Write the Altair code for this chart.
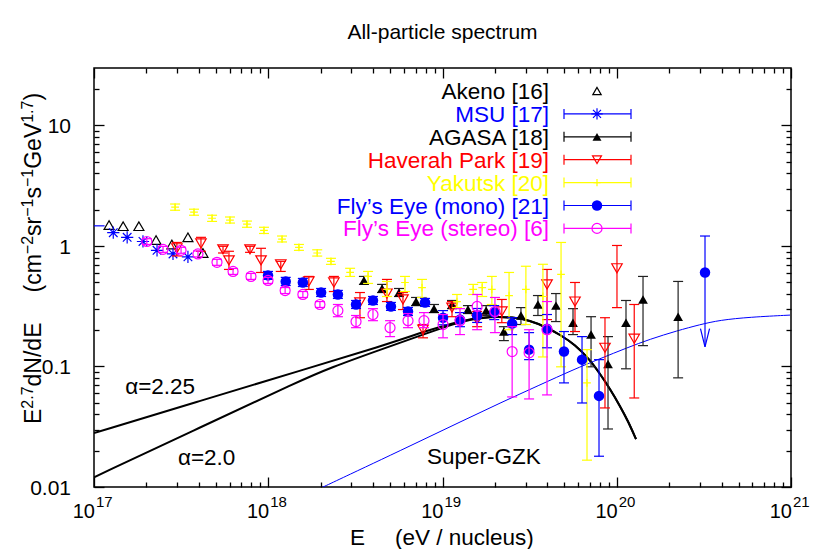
import altair as alt
import pandas as pd

FONT = "Liberation Sans"

# ---------------- data: E (eV) and E^2.7 dN/dE ----------------
akeno_E = [1.22e17, 1.47e17, 1.81e17, 2.27e17, 2.80e17, 3.46e17, 4.22e17]
akeno_F = [1.49, 1.46, 1.46, 1.12, 1.03, 1.18, 0.875]

msu_E = [1.29e17, 1.55e17, 1.91e17, 2.30e17, 2.84e17, 3.46e17]
msu_F = [1.29, 1.18, 1.09, 0.921, 0.859, 0.812]
# MSU point just below 1e17: only its horizontal error bar enters the frame
msu_edge_E = [8.0e16]
msu_edge_E2 = [1.15e17]
msu_edge_F = [1.47]

agasa_E = [3.54e18, 4.50e18, 5.63e18, 7.05e18, 8.94e18, 1.134e19, 1.40e19, 1.78e19, 2.25e19,
           2.82e19, 3.53e19, 4.48e19, 5.61e19, 7.12e19, 8.91e19, 1.13e20, 1.415e20, 2.25e20]
agasa_F = [0.518, 0.444, 0.411, 0.346, 0.302, 0.327, 0.297, 0.291, 0.195,
           0.265, 0.327, 0.320, 0.231, 0.184, 0.105, 0.231, 0.360, 0.259]
agasa_lo = [0.480, 0.411, 0.381, 0.320, 0.280, 0.302, 0.275, 0.265, 0.164,
            0.223, 0.265, 0.236, 0.184, 0.0994, 0.0303, 0.0957, 0.149, 0.0805]
agasa_hi = [0.559, 0.480, 0.444, 0.374, 0.327, 0.353, 0.320, 0.320, 0.214,
            0.308, 0.388, 0.403, 0.302, 0.259, 0.177, 0.353, 0.559, 0.508]

hp_E = [2.99e17, 4.11e17, 5.50e17, 5.95e17, 7.86e17, 9.09e17, 1.18e18, 1.71e18, 2.38e18, 3.36e18,
        4.80e18, 5.93e18, 7.73e18, 1.134e19, 1.58e19, 2.19e19, 3.98e19, 5.76e19, 8.56e19, 1.003e20, 1.26e20]
hp_F = [0.957, 1.05, 0.938, 0.760, 0.938, 0.760, 0.705, 0.508, 0.498, 0.340,
        0.403, 0.360, 0.202, 0.308, 0.245, 0.286, 0.480, 0.346, 0.143, 0.653, 0.170]
hp_lo = [0.827, 0.904, 0.875, 0.639, 0.886, 0.603, 0.615, 0.436, 0.419, 0.254,
         0.346, 0.297, 0.173, 0.259, 0.214, 0.231, 0.245, 0.195, 0.0453, 0.308, 0.0548]
hp_hi = [1.07, 1.18, 0.994, 0.904, 0.994, 0.957, 0.746, 0.559, 0.559, 0.411,
         0.528, 0.411, 0.223, 0.346, 0.286, 0.360, 0.639, 0.498, 0.254, 1.01, 0.327]

yak_E = [2.92e17, 3.75e17, 4.76e17, 6.03e17, 7.55e17, 9.45e17, 1.20e18, 1.50e18, 1.91e18, 2.29e18,
         2.95e18, 3.74e18, 4.80e18, 6.09e18, 7.63e18, 1.211e19, 1.50e19, 1.69e19, 1.92e19, 2.41e19,
         3.01e19, 3.77e19, 4.79e19, 6.75e19]
yak_F = [2.10, 1.91, 1.70, 1.64, 1.52, 1.35, 1.14, 0.975, 0.875, 0.746,
         0.603, 0.559, 0.436, 0.498, 0.452, 0.346, 0.436, 0.452, 0.436, 0.388,
         0.436, 0.381, 0.581, 0.0731]
yak_lo = [1.98, 1.80, 1.60, 1.55, 1.43, 1.27, 1.08, 0.92, 0.825, 0.704,
          0.559, 0.489, 0.381, 0.419, 0.374, 0.308, 0.396, 0.381, 0.327, 0.202,
          0.223, 0.120, 0.0994, 0.0167]
yak_hi = [2.23, 2.02, 1.80, 1.74, 1.61, 1.43, 1.21, 1.03, 0.93, 0.79,
          0.653, 0.615, 0.508, 0.559, 0.528, 0.396, 0.480, 0.498, 0.559, 0.603,
          0.679, 0.705, 1.07, 0.138]

fem_E = [9.97e17, 1.26e18, 1.58e18, 2.01e18, 2.51e18, 3.19e18, 3.99e18, 5.06e18, 6.34e18, 7.94e18,
         1.007e19, 1.26e19, 1.58e19, 1.98e19, 2.51e19, 3.14e19, 3.98e19, 4.98e19, 6.32e19, 7.91e19]
fem_F = [0.570, 0.508, 0.498, 0.411, 0.396, 0.327, 0.353, 0.315, 0.286, 0.340,
         0.254, 0.245, 0.265, 0.280, 0.227, 0.138, 0.206, 0.133, 0.114, 0.0570]
fem_lo = [0.528, 0.470, 0.461, 0.381, 0.367, 0.303, 0.327, 0.292, 0.265, 0.315,
          0.222, 0.214, 0.232, 0.245, 0.184, 0.114, 0.143, 0.0731, 0.0498, 0.0180]
fem_hi = [0.615, 0.549, 0.538, 0.444, 0.428, 0.353, 0.381, 0.340, 0.309, 0.367,
          0.291, 0.280, 0.303, 0.320, 0.254, 0.191, 0.270, 0.195, 0.177, 0.114]

# Fly's Eye (mono) upper limit
ul_E = [3.21e20]
ul_F = [0.603]
ul_hi = [1.21]
ul_tip = [0.146]

fes_E = [2.01e17, 2.49e17, 3.16e17, 3.95e17, 5.08e17, 6.28e17, 7.96e17, 9.97e17, 1.25e18, 1.58e18,
         1.98e18, 2.51e18, 3.19e18, 3.99e18, 5.00e18, 6.34e18, 7.83e18, 1.007e19, 1.26e19, 1.58e19,
         2.00e19, 2.51e19, 3.14e19, 3.98e19]
fes_F = [1.09, 0.938, 0.921, 0.859, 0.732, 0.615, 0.559, 0.518, 0.427, 0.396,
         0.327, 0.291, 0.236, 0.270, 0.210, 0.240, 0.240, 0.223, 0.240, 0.315,
         0.286, 0.133, 0.130, 0.202]
fes_lo = [1.03, 0.886, 0.870, 0.811, 0.691, 0.581, 0.528, 0.489, 0.403, 0.374,
          0.309, 0.259, 0.210, 0.240, 0.177, 0.210, 0.210, 0.173, 0.184, 0.202,
          0.191, 0.0559, 0.0538, 0.0581]
fes_hi = [1.15, 0.993, 0.975, 0.910, 0.775, 0.651, 0.592, 0.549, 0.452, 0.419,
          0.346, 0.327, 0.265, 0.302, 0.240, 0.275, 0.280, 0.270, 0.302, 0.396,
          0.374, 0.214, 0.202, 0.346]

# model curves
tail_E = [1.874e19, 2.54e19, 3.18e19, 3.873e19, 4.725e19, 5.76e19, 7.02e19,
          8.01e19, 9.15e19, 1.044e20, 1.16e20, 1.29e20]
tail_F = [0.2595, 0.2570, 0.2403, 0.2142, 0.1837, 0.1517, 0.1137,
          0.0869, 0.0652, 0.0470, 0.0353, 0.0250]
a225_E = [1.0e17, 4.058e17, 1.583e18, 4.378e18, 8.48e18, 1.18e19, 1.438e19] + tail_E
a225_F = [0.0280, 0.0518, 0.0939, 0.1459, 0.2022, 0.2314, 0.2474] + tail_F
a20_E = [1.0e17, 4.058e17, 1.521e18, 2.262e18, 4.378e18, 8.48e18, 1.18e19, 1.438e19] + tail_E
a20_F = [0.01205, 0.03113, 0.0763, 0.0975, 0.1377, 0.1928, 0.2269, 0.2450] + tail_F
gzk_E = [2.035e18, 2.95e18, 4.38e18, 7.43e18, 1.26e19, 2.14e19, 3.63e19, 5.61e19, 8.01e19,
         1.145e20, 1.551e20, 2.22e20, 3.00e20, 3.91e20, 5.82e20, 9.87e20]
gzk_F = [0.0099, 0.01276, 0.0167, 0.0240, 0.0346, 0.0498, 0.0704, 0.0939, 0.116,
         0.143, 0.1685, 0.198, 0.2226, 0.2427, 0.257, 0.267]

x_major = [1e17, 1e18, 1e19, 1e20, 1e21]
x_exp = ["17", "18", "19", "20", "21"]
y_major = [0.01, 0.1, 1, 10]
y_labels = ["0.01", "0.1", "1", "10"]
x_minor = [m * 10.0 ** d for d in range(17, 21) for m in range(2, 10)]
y_minor = [m * 10.0 ** d for d in range(-2, 1) for m in range(2, 10)] + [20]

legend_labels = ["Akeno [16]", "MSU [17]", "AGASA [18]", "Haverah Park [19]",
                 "Yakutsk [20]", "Fly\u2019s Eye (mono) [21]", "Fly\u2019s Eye (stereo) [6]"]

# ---------------- layout ----------------
W, H = 697, 419
PAD = {"left": 86, "top": 60, "right": 31, "bottom": 62}
BLUE, RED, YEL, MAG, BLK = "#0000ff", "#ff0000", "#ffff00", "#ff00ff", "#000000"
FS = 22.5

xs = alt.Scale(type="log", domain=[1e17, 1e21], nice=False)
ys = alt.Scale(type="log", domain=[0.01, 30], nice=False)

CAP = "M-1,0L1,0"
PLUS = "M-1,0L1,0M0,-1L0,1"
STAR = "M-1,0L1,0M0,-1L0,1M-0.7,-0.7L0.7,0.7M-0.7,0.7L0.7,-0.7"
ARROW = "M-0.5,-1L0,1L0.5,-1"

major_test = "abs(log(datum.value)/LN10 - round(log(datum.value)/LN10)) < 0.001"
tick_size = {"condition": {"test": major_test, "value": 10}, "value": 5}


def tick_axis(orient, vals):
    return alt.Axis(orient=orient, offset=-(H if orient in ("top", "bottom") else W),
                    values=vals, labels=False, domain=False, grid=False, title=None,
                    ticks=True, tickColor="black", tickWidth=1.3, tickSize=tick_size)


def X(field="E", axis=None):
    return alt.X(f"{field}:Q", scale=xs, axis=axis)


def Y(field="F", axis=None):
    return alt.Y(f"{field}:Q", scale=ys, axis=axis)


def curve(E, F, color, width, xaxis=None, yaxis=None, interp="basis"):
    df = pd.DataFrame({"E": E, "F": F, "i": range(len(E))})
    return alt.Chart(df).mark_line(color=color, strokeWidth=width, clip=True,
                                   interpolate=interp).encode(
        x=X(axis=xaxis), y=Y(axis=yaxis), order="i:Q")


def errbars(E, lo, hi, color, sw=1.2):
    df = pd.DataFrame({"E": E, "lo": lo, "hi": hi})
    base = alt.Chart(df)
    rule = base.mark_rule(color=color, strokeWidth=sw, clip=True).encode(x=X(), y=Y("lo"), y2="hi:Q")
    c1 = base.mark_point(shape=CAP, size=100, color=color, opacity=1, strokeWidth=sw,
                         clip=True).encode(x=X(), y=Y("lo"))
    c2 = base.mark_point(shape=CAP, size=100, color=color, opacity=1, strokeWidth=sw,
                         clip=True).encode(x=X(), y=Y("hi"))
    return [rule, c1, c2]


def points(E, F, shape, filled, color, size, sw=1.2):
    df = pd.DataFrame({"E": E, "F": F})
    return alt.Chart(df).mark_point(shape=shape, filled=filled, color=color, size=size,
                                    opacity=1, strokeWidth=sw, clip=True).encode(x=X(), y=Y())


layers = []
# curves (axes carrying inward ticks are attached to these)
layers.append(curve(a225_E, a225_F, BLK, 2,
                    xaxis=tick_axis("top", x_major + x_minor),
                    yaxis=tick_axis("right", y_major + y_minor)))
layers.append(curve(a20_E, a20_F, BLK, 2,
                    xaxis=tick_axis("bottom", x_major + x_minor),
                    yaxis=tick_axis("left", y_major + y_minor)))
layers.append(curve(gzk_E, gzk_F, BLUE, 1))

# data series
layers.append(points(akeno_E, akeno_F, "triangle-up", False, BLK, 100))
edge = pd.DataFrame({"E": msu_edge_E, "E2": msu_edge_E2, "F": msu_edge_F})
layers.append(alt.Chart(edge).mark_rule(color=BLUE, strokeWidth=1.2, clip=True)
              .encode(x=X(), x2="E2:Q", y=Y()))
layers.append(points(msu_E, msu_F, STAR, False, BLUE, 150))
layers += errbars(agasa_E, agasa_lo, agasa_hi, "#222222")
layers.append(points(agasa_E, agasa_F, "triangle-up", True, BLK, 95))
layers += errbars(hp_E, hp_lo, hp_hi, RED)
layers.append(points(hp_E, hp_F, "triangle-down", False, RED, 110))
layers += errbars(yak_E, yak_lo, yak_hi, YEL)
layers.append(points(yak_E, yak_F, PLUS, False, YEL, 60))
layers += errbars(fem_E, fem_lo, fem_hi, BLUE)
layers.append(points(fem_E, fem_F, "circle", True, BLUE, 110))
ul_df = pd.DataFrame({"E": ul_E, "F": ul_F, "hi": ul_hi, "tip": ul_tip})
layers.append(alt.Chart(ul_df).mark_rule(color=BLUE, strokeWidth=1.2).encode(x=X(), y=Y("tip"), y2="hi:Q"))
layers.append(alt.Chart(ul_df).mark_point(shape=CAP, size=100, color=BLUE, opacity=1, strokeWidth=1.2)
              .encode(x=X(), y=Y("hi")))
layers.append(alt.Chart(ul_df).mark_point(shape=ARROW, size=330, color=BLUE, opacity=1, strokeWidth=1.2)
              .encode(x=X(), y=Y("tip"), yOffset=alt.value(-9)))
layers.append(points(ul_E, ul_F, "circle", True, BLUE, 110))
layers += errbars(fes_E, fes_lo, fes_hi, MAG)
layers.append(points(fes_E, fes_F, "circle", False, MAG, 100))

# ---------------- legend (drawn manually, gnuplot style) ----------------
LEG_TX, LEG_SX, LEG_X1, LEG_X2 = 455, 503, 470, 537
LEG_Y0, LEG_DY = 23, 22.9
leg_colors = [BLK, BLUE, BLK, RED, YEL, BLUE, MAG]
leg_style = [("triangle-up", False, 70), (STAR, False, 130), ("triangle-up", True, 80),
             ("triangle-down", False, 80), (PLUS, False, 50), ("circle", True, 110),
             ("circle", False, 100)]
one = pd.DataFrame({"a": [0]})
for i, (lab, col, (shp, fil, sz)) in enumerate(zip(legend_labels, leg_colors, leg_style)):
    yy = LEG_Y0 + i * LEG_DY
    layers.append(alt.Chart(one).mark_text(align="right", baseline="middle", font=FONT, fontSize=FS,
                                           color=col).encode(x=alt.value(LEG_TX), y=alt.value(yy + 1),
                                                             text=alt.value(lab)))
    if i > 0:
        layers.append(alt.Chart(one).mark_rule(color=col, strokeWidth=1.2).encode(
            x=alt.value(LEG_X1), x2=alt.value(LEG_X2), y=alt.value(yy)))
        for xx in (LEG_X1, LEG_X2):
            layers.append(alt.Chart(one).mark_rule(color=col, strokeWidth=1.2).encode(
                x=alt.value(xx), y=alt.value(yy - 5), y2=alt.value(yy + 5)))
    layers.append(alt.Chart(one).mark_point(shape=shp, filled=fil, color=col, size=sz, opacity=1,
                                            strokeWidth=1.2).encode(x=alt.value(LEG_SX), y=alt.value(yy)))

# ---------------- annotations ----------------
ann = pd.DataFrame({"E": [1.51e17, 3.03e17, 8.15e18], "F": [0.0677, 0.0173, 0.0177],
                    "t": ["\u03b1=2.25", "\u03b1=2.0", "Super-GZK"]})
layers.append(alt.Chart(ann).mark_text(align="left", baseline="middle", font=FONT, fontSize=FS,
                                       color="black").encode(x=X(), y=Y(), text="t:N"))

# tick labels
xl = pd.DataFrame({"E": x_major, "e": x_exp})
layers.append(alt.Chart(xl).mark_text(align="right", baseline="middle", font=FONT, fontSize=20, dx=1)
              .encode(x=X(), y=alt.value(H + 25), text=alt.value("10")))
layers.append(alt.Chart(xl).mark_text(align="left", baseline="middle", font=FONT, fontSize=15, dx=2)
              .encode(x=X(), y=alt.value(H + 15), text="e:N"))
yl = pd.DataFrame({"F": y_major, "t": y_labels})
layers.append(alt.Chart(yl).mark_text(align="right", baseline="middle", font=FONT, fontSize=21, dy=2)
              .encode(x=alt.value(-23), y=Y(), text="t:N"))

# titles
layers.append(alt.Chart(one).mark_text(align="center", baseline="middle", font=FONT, fontSize=21)
              .encode(x=alt.value(W / 2), y=alt.value(-35), text=alt.value("All-particle spectrum")))
layers.append(alt.Chart(one).mark_text(align="left", baseline="alphabetic", font=FONT, fontSize=FS)
              .encode(x=alt.value(256), y=alt.value(H + 58), text=alt.value("E")))
layers.append(alt.Chart(one).mark_text(align="left", baseline="alphabetic", font=FONT, fontSize=FS)
              .encode(x=alt.value(301), y=alt.value(H + 58), text=alt.value("(eV / nucleus)")))

# y title, built from pieces so that exponents are true superscripts
EM = {"E": .667, "d": .556, "N": .722, "/": .278, "(": .333, "c": .5, "m": .833, "s": .5,
      "r": .333, "G": .778, "e": .556, "V": .667, ")": .333, ".": .278, "\u2212": .584}
YT_FS, YT_SUP, YT_GAP = 23, 16, 30
yt_pieces = [("E", 0), ("2.7", 1), ("dN/dE", 0), (None, 0), ("(cm", 0), ("\u22122", 1), ("sr", 0),
             ("\u22121", 1), ("s", 0), ("\u22121", 1), ("GeV", 0), ("1.7", 1), (")", 0)]
ypos = 356.0
for txt, sup in yt_pieces:
    if txt is None:
        ypos -= YT_GAP
        continue
    fs = YT_SUP if sup else YT_FS
    layers.append(alt.Chart(one).mark_text(align="left", baseline="alphabetic", font=FONT,
                                           fontSize=fs, angle=270)
                  .encode(x=alt.value(-61 if sup else -53), y=alt.value(ypos), text=alt.value(txt)))
    ypos -= sum(EM.get(ch, .556) for ch in txt) * fs

chart = alt.layer(*layers).resolve_axis(x="independent", y="independent").properties(
    width=W, height=H, padding=PAD, autosize=alt.AutoSizeParams(type="none"),
    background="white"
).configure_view(stroke="black", strokeWidth=1.5)

chart.save("out.html", embed_options={"renderer": "svg", "actions": False})
